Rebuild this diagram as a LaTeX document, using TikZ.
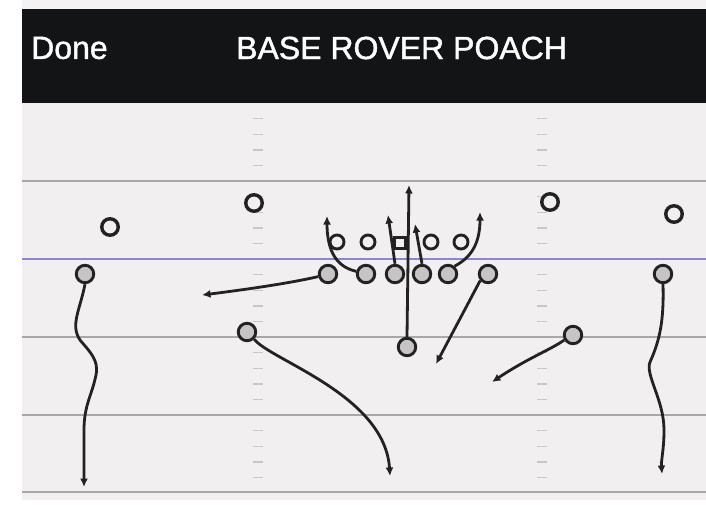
\documentclass[tikz,border=0pt]{standalone}
\usepackage{fontspec}
\setmainfont{Liberation Sans}
\newfontfamily\hdrfont[FakeBold=1.3]{Liberation Sans}
\usetikzlibrary{arrows.meta}
\definecolor{hdr}{HTML}{121416}
\definecolor{fieldbg}{HTML}{F1EFEF}
\definecolor{topbg}{HTML}{F4F2F2}
\definecolor{yardline}{HTML}{A9A7A7}
\definecolor{losline}{HTML}{8E86C6}
\definecolor{ink}{HTML}{222222}
\definecolor{hashc}{HTML}{C8C6C6}
\definecolor{offfill}{HTML}{C6C4C4}
\begin{document}
\begin{tikzpicture}[x=1pt,y=-1pt,
  defbig/.style={circle,draw=ink,line width=3.4pt,minimum size=16.5pt,inner sep=0pt,fill=fieldbg},
  defline/.style={circle,draw=ink,line width=2.9pt,minimum size=14pt,inner sep=0pt,fill=fieldbg},
  dsquare/.style={rectangle,draw=ink,line width=2.6pt,minimum size=11pt,inner sep=0pt,fill=fieldbg},
  offp/.style={circle,draw=ink,line width=2.9pt,minimum size=17.5pt,inner sep=0pt,fill=offfill},
  route/.style={draw=ink,line width=2.8pt,-{Latex[length=8.5pt,width=8pt]}},
  yard/.style={draw=yardline,line width=2.6pt},
  hashmark/.style={draw=hashc,line width=1.4pt},
  hdrtext/.style={anchor=west,text=white,inner sep=0pt,font=\hdrfont\fontsize{32}{38}\selectfont}]
\useasboundingbox (0,0) rectangle (706,509);
% backgrounds
\fill[white] (0,0) rectangle (706,509);
\fill[topbg] (22,0) rectangle (706,9);
\fill[hdr] (22,9) rectangle (706,103);
\fill[fieldbg] (22,103) rectangle (706,500);
% header texts
\node[hdrtext] (done) at (31,48) {Done};
\node[hdrtext] (title) at (236,48) {BASE ROVER POACH};
% hash marks
\foreach \k in {1,2,3,4,6,7,8,9,11,12,13,14,16,17,18,19,21,22,23,24}{
  \draw[hashmark] (253,103+15.6*\k) -- (263,103+15.6*\k);
  \draw[hashmark] (537,103+15.6*\k) -- (547,103+15.6*\k);
}
% yard lines
\draw[yard] (22,181) -- (706,181);
\draw[yard] (22,337) -- (706,337);
\draw[yard] (22,415) -- (706,415);
\draw[yard] (22,492) -- (706,492);
\draw[draw=losline,line width=2.6pt] (22,259) -- (706,259);
% defense
\node[defbig] (fs1) at (110,227) {};
\node[defbig] (fs2) at (254,203) {};
\node[defbig] (fs3) at (550,202) {};
\node[defbig] (fs4) at (674,214) {};
\node[defline] (d1) at (337,242) {};
\node[defline] (d2) at (368,242) {};
\node[dsquare] (dn) at (400,243) {};
\node[defline] (d4) at (431,242) {};
\node[defline] (d5) at (461,242) {};
% offense
\node[offp] (wl) at (85,274) {};
\node[offp] (o1) at (328,274) {};
\node[offp] (o2) at (366,274) {};
\node[offp] (o3) at (395,274) {};
\node[offp] (o4) at (422,274) {};
\node[offp] (o5) at (448,274) {};
\node[offp] (te) at (488,274) {};
\node[offp] (wr) at (663,274) {};
\node[offp] (bl) at (247,332) {};
\node[offp] (qb) at (407,347) {};
\node[offp] (br) at (573,335) {};
% route ends
\coordinate (t1) at (84,487);
\coordinate (t2) at (202,295);
\coordinate (t3) at (327,216);
\coordinate (t4) at (388,215);
\coordinate (t5) at (415,224);
\coordinate (t6) at (480,212);
\coordinate (t7) at (409,185);
\coordinate (t8) at (436,364);
\coordinate (t9) at (492,382);
\coordinate (t10) at (390,476);
\coordinate (t11) at (662,474);
% routes
\draw[route] (wl.south) .. controls (80,310) and (70,325) .. (80,340) .. controls (90,352) and (99,360) .. (96,375) .. controls (92,395) and (84,405) .. (84,430) -- (t1);
\draw[route] (o1.195) .. controls (290,283) and (250,289) .. (t2);
\draw[route] (o2.165) .. controls (342,268) and (327,258) .. (t3);
\draw[route] (o3.north) -- (t4);
\draw[route] (o4.north) -- (t5);
\draw[route] (o5.50) .. controls (470,258) and (480,245) .. (t6);
\draw[route] (qb.north) -- (t7);
\draw[route] (te.220) -- (t8);
\draw[route] (br.210) .. controls (550,350) and (528,358) .. (t9);
\draw[route] (bl.-45) .. controls (270,360) and (385,395) .. (t10);
\draw[route] (wr.south) .. controls (664,320) and (660,340) .. (650,362) .. controls (645,375) and (664,400) .. (664,430) .. controls (664,450) and (661,460) .. (t11);
\end{tikzpicture}
\end{document}
